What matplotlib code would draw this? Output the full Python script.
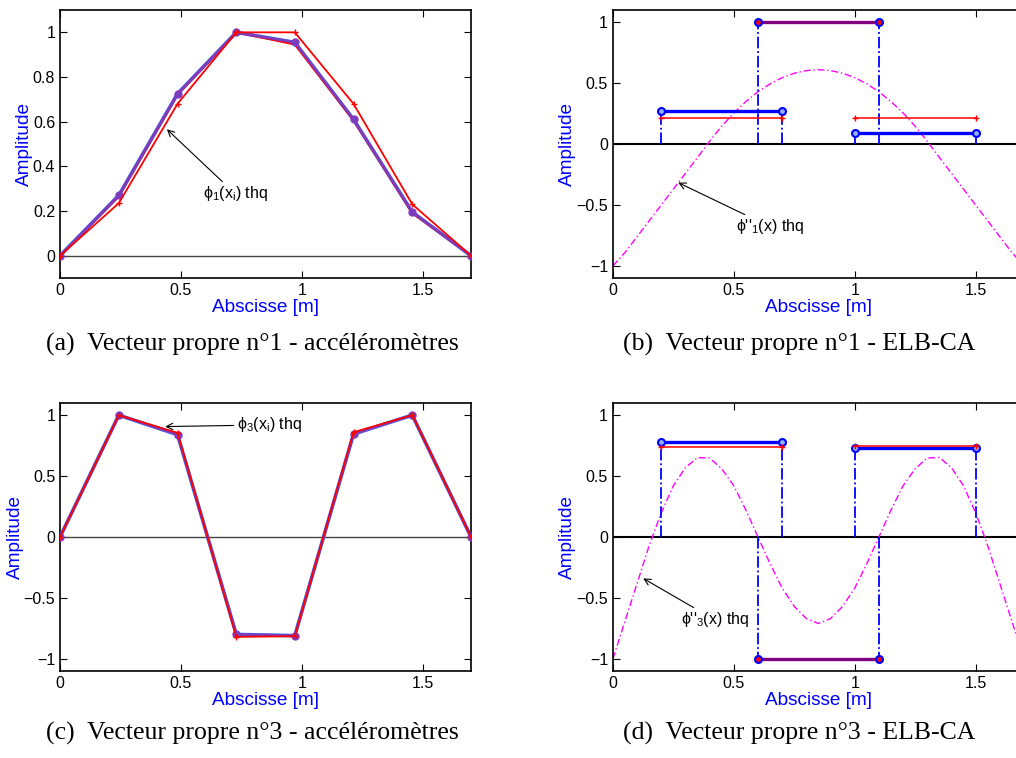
"""Vecteurs propres 1 et 3 : accéléromètres et ELB-CA"""
import matplotlib
matplotlib.use('Agg')
import matplotlib.pyplot as plt

plt.rcParams['font.family'] = ['Liberation Sans', 'DejaVu Sans']
plt.rcParams['mathtext.fontset'] = 'custom'
plt.rcParams['mathtext.rm'] = 'Liberation Sans'
plt.rcParams['mathtext.it'] = 'Liberation Sans'

# Positions des accéléromètres [m]
x_acc = [0, 0.243, 0.486, 0.729, 0.971, 1.214, 1.457, 1.7]

# Mode 1 : mesuré, identifié, théorique
phi1_mes = [0, 0.27, 0.725, 1.0, 0.955, 0.61, 0.195, 0]
phi1_id = [0, 0.265, 0.72, 1.0, 0.945, 0.605, 0.19, 0]
phi1_thq = [0, 0.235, 0.68, 1.0, 1.0, 0.68, 0.23, 0]

# Mode 3
phi3_mes = [0, 1.0, 0.84, -0.80, -0.81, 0.845, 1.0, 0]
phi3_thq = [0, 1.0, 0.855, -0.82, -0.815, 0.86, 1.0, 0]

# Jauges ELB-CA : début, fin
elb_debut = [0.2, 0.6, 1.0]
elb_fin = [0.7, 1.1, 1.5]
elb1_mes = [0.275, 1.0, 0.09]
elb1_thq = [0.215, 1.0, 0.21]
elb3_mes = [0.78, -1.0, 0.73]
elb3_thq = [0.74, -1.0, 0.745]

# Courbures théoriques
x_courbe = [0, 0.05, 0.1, 0.15, 0.2, 0.25, 0.3, 0.35, 0.4, 0.45, 0.5, 0.55,
            0.6, 0.65, 0.7, 0.75, 0.8, 0.85, 0.9, 0.95, 1.0, 1.05, 1.1, 1.15,
            1.2, 1.25, 1.3, 1.35, 1.4, 1.45, 1.5, 1.55, 1.6, 1.65, 1.7]
d2phi1 = [-1.0, -0.89, -0.76, -0.63, -0.50, -0.37, -0.24, -0.11, 0.023, 0.146,
          0.255, 0.349, 0.429, 0.494, 0.545, 0.581, 0.603, 0.61, 0.603, 0.581,
          0.545, 0.494, 0.429, 0.349, 0.255, 0.146, 0.023, -0.11, -0.24, -0.37,
          -0.50, -0.63, -0.76, -0.89, -1.0]
d2phi3 = [-1.0, -0.69, -0.38, -0.07, 0.20, 0.42, 0.57, 0.652, 0.648, 0.56,
          0.42, 0.22, 0.0, -0.22, -0.42, -0.57, -0.67, -0.71, -0.67, -0.57,
          -0.42, -0.22, 0.0, 0.22, 0.42, 0.56, 0.648, 0.652, 0.57, 0.42,
          0.20, -0.07, -0.38, -0.69, -1.0]

VIOLET = '#7d3cc0'
fig = plt.figure(figsize=(10.16, 7.58), dpi=100)


def style_axes(ax, ylim, yticks):
    """Axes à la MATLAB : ticks internes sur les quatre côtés."""
    ax.set_xlim(0, 1.7)
    ax.set_ylim(*ylim)
    ax.set_xticks([0, 0.5, 1, 1.5])
    ax.set_xticklabels(['0', '0.5', '1', '1.5'])
    ax.set_yticks(yticks)
    ax.set_yticklabels([('%g' % v).replace('-', '\u2212') for v in yticks])
    ax.tick_params(direction='in', top=True, right=True, labelsize=11.5,
                   length=5, width=0.8)
    for s in ax.spines.values():
        s.set_linewidth(1.2)
    ax.set_xlabel('Abscisse [m]', color='blue', fontsize=13.7, labelpad=1)
    ax.set_ylabel('Amplitude', color='blue', fontsize=13.7, labelpad=0)


def graphe_acc(ax, mes, idt, thq, ylim, yticks):
    """Déformée aux accéléromètres."""
    ax.axhline(0, color='#444444', lw=1.0)
    ax.plot(x_acc, mes, color='#3a5fe0', lw=2.6, zorder=3)
    if idt is not None:
        ax.plot(x_acc, idt, color='red', lw=1.3, zorder=3)
    ax.plot(x_acc, mes, color=VIOLET, lw=1.8, marker='o', ms=5, zorder=4)
    ax.plot(x_acc, thq, color='red', lw=1.3, marker='+', ms=4, zorder=5)
    style_axes(ax, ylim, yticks)


def graphe_elb(ax, mes, thq, courbe):
    """Courbures moyennes des jauges ELB-CA."""
    ax.axhline(0, color='black', lw=1.5)
    ax.plot(x_courbe, courbe, color='magenta', lw=1.0, ls=(0, (5, 2, 1, 2)))
    for d, f, m, t in zip(elb_debut, elb_fin, mes, thq):
        ax.plot([d, d], [0, m], color='blue', lw=1.3, ls='-.')
        ax.plot([f, f], [0, m], color='blue', lw=1.3, ls='-.')
        egal = abs(m - t) < 1e-9
        c = '#800080' if egal else 'blue'
        ax.plot([d, f], [t, t], color='red', lw=1.1, marker='+', ms=5,
                zorder=3 if egal else 5)
        ax.plot([d, f], [m, m], color=c, lw=2.4, marker='o', ms=5,
                mfc='#8fb0ff' if not egal else 'red', mec=c if not egal else 'blue',
                mew=1.5, zorder=4)
    style_axes(ax, (-1.1, 1.1), [-1, -0.5, 0, 0.5, 1])


fleche = dict(arrowstyle='->', color='black', lw=0.8, shrinkA=0, shrinkB=0)

ax_a = fig.add_axes([0.0591, 0.6332, 0.4045, 0.3536])
graphe_acc(ax_a, phi1_mes, phi1_id, phi1_thq, (-0.1, 1.1),
           [0, 0.2, 0.4, 0.6, 0.8, 1])
ax_a.annotate('ϕ$_1$(x$_i$) thq', xy=(0.442, 0.566), xytext=(0.59, 0.277),
              fontsize=11.5, va='center', arrowprops=fleche)

ax_b = fig.add_axes([0.6033, 0.6332, 0.4045, 0.3536])
graphe_elb(ax_b, elb1_mes, elb1_thq, d2phi1)
ax_b.annotate("ϕ''$_1$(x) thq", xy=(0.27, -0.317), xytext=(0.51, -0.68),
              fontsize=11.5, va='center', arrowprops=fleche)

ax_c = fig.add_axes([0.0591, 0.1148, 0.4045, 0.3536])
graphe_acc(ax_c, phi3_mes, None, phi3_thq, (-1.1, 1.1), [-1, -0.5, 0, 0.5, 1])
ax_c.annotate('ϕ$_3$(x$_i$) thq', xy=(0.435, 0.906), xytext=(0.73, 0.92),
              fontsize=11.5, va='center', arrowprops=fleche)

ax_d = fig.add_axes([0.6033, 0.1148, 0.4045, 0.3536])
graphe_elb(ax_d, elb3_mes, elb3_thq, d2phi3)
ax_d.annotate("ϕ''$_3$(x) thq", xy=(0.125, -0.34), xytext=(0.28, -0.68),
              fontsize=11.5, va='center', arrowprops=fleche)

# Légendes des sous-figures
legendes = [(0.248, 0.538, '(a)  Vecteur propre n°1 - accéléromètres'),
            (0.787, 0.538, '(b)  Vecteur propre n°1 - ELB-CA'),
            (0.248, 0.024, '(c)  Vecteur propre n°3 - accéléromètres'),
            (0.787, 0.024, '(d)  Vecteur propre n°3 - ELB-CA')]
for x, y, txt in legendes:
    fig.text(x, y, txt, ha='center', va='baseline', fontsize=18.5,
             family='Liberation Serif')

fig.savefig('out.png', dpi=100)
